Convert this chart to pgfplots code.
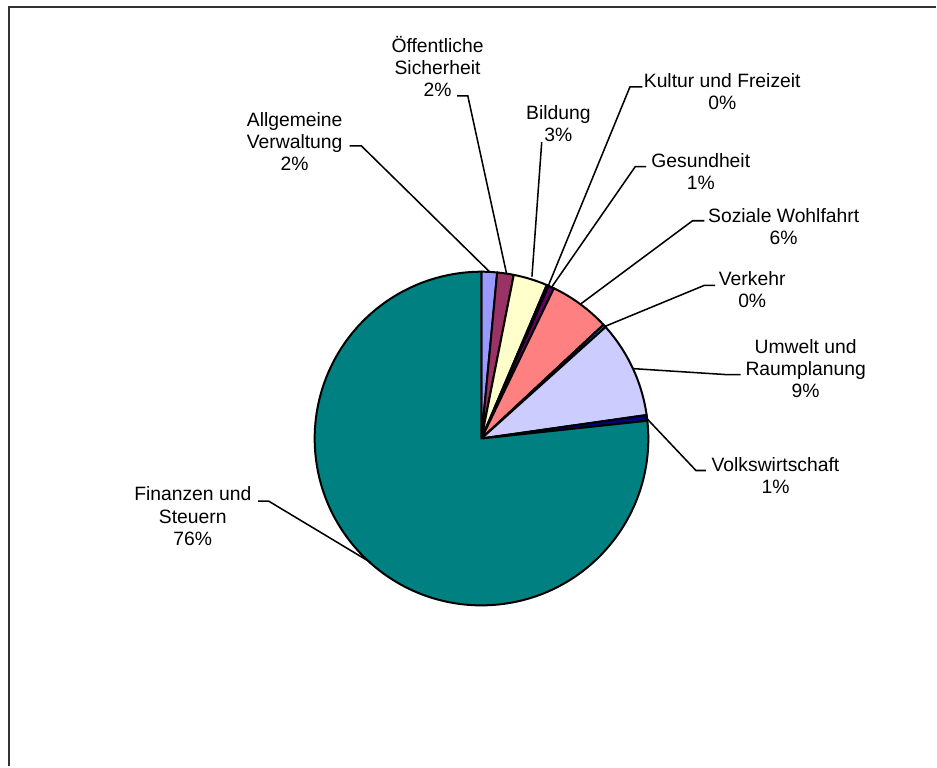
\documentclass[border=0pt]{standalone}
\usepackage{pgfplots}
\pgfplotsset{compat=1.18}
\usepackage{fontspec}
\setmainfont{Liberation Sans}
\definecolor{cA}{HTML}{9999FF}
\definecolor{cB}{HTML}{993366}
\definecolor{cC}{HTML}{FFFFCC}
\definecolor{cD}{HTML}{CCFFFF}
\definecolor{cE}{HTML}{660066}
\definecolor{cF}{HTML}{FF8080}
\definecolor{cG}{HTML}{0066CC}
\definecolor{cH}{HTML}{CCCCFF}
\definecolor{cI}{HTML}{000080}
\definecolor{cJ}{HTML}{008080}
% slice: start (cumulative %), end (cumulative %), colour
\newcommand{\slice}[3]{%
  \filldraw[fill=#3, draw=black, line width=1.5pt, line join=round]
    (axis cs:482,328) -- ++({90-3.6*#1}:125.25pt)
    arc[start angle={90-3.6*#1}, end angle={90-3.6*#2}, radius=125.25pt] -- cycle;}
\begin{document}
\begin{tikzpicture}
\begin{axis}[width=702.75pt, height=575.25pt, scale only axis,
  xmin=0, xmax=937, ymin=0, ymax=767, hide axis, clip=false]
\path (axis cs:0,0) rectangle (axis cs:937,767);
% frame
\draw[black!80, line width=1.5pt] (axis cs:9.5,0) -- (axis cs:9.5,760) -- (axis cs:937,760);
% values (%): Allgemeine Verwaltung 1.5, Oeffentliche Sicherheit 1.6, Bildung 3.3,
% Kultur 0.2, Gesundheit 0.55, Soziale Wohlfahrt 5.9, Verkehr 0.3, Umwelt 9.4,
% Volkswirtschaft 0.55, Finanzen und Steuern 76.7
\slice{0}{1.5}{cA}
\slice{1.5}{3.1}{cB}
\slice{3.1}{6.4}{cC}
\slice{6.4}{6.6}{cD}
\slice{6.6}{7.15}{cE}
\slice{7.15}{13.05}{cF}
\slice{13.05}{13.35}{cG}
\slice{13.35}{22.75}{cH}
\slice{22.75}{23.3}{cI}
\slice{23.3}{100}{cJ}
% leader lines
\begin{scope}[line width=1.15pt]
\draw (axis cs:490,495) -- (axis cs:361.7,621) -- (axis cs:350,621);
\draw (axis cs:507,493.5) -- (axis cs:468.3,671) -- (axis cs:457.7,671);
\draw (axis cs:532.5,490) -- (axis cs:542.3,624.7);
\draw (axis cs:548.5,480) -- (axis cs:630.6,680) -- (axis cs:643,680);
\draw (axis cs:551.5,478.5) -- (axis cs:636,600.3) -- (axis cs:646.7,600.3);
\draw (axis cs:581,462.5) -- (axis cs:693.3,546) -- (axis cs:705,546);
\draw (axis cs:605,440) -- (axis cs:705,481.3) -- (axis cs:716,481.3);
\draw (axis cs:633.5,398) -- (axis cs:727,392) -- (axis cs:741.5,392);
\draw (axis cs:648,347.5) -- (axis cs:696.7,296) -- (axis cs:706.7,296);
\draw (axis cs:371,204) -- (axis cs:269,265.3) -- (axis cs:258.3,265.3);
\end{scope}
% labels
\begin{scope}[every node/.style={align=center, inner sep=0pt,
    font=\fontsize{14.5}{16.6}\selectfont}]
\node at (axis cs:295,625.3) {Allgemeine\\Verwaltung\\2\%};
\node at (axis cs:438,700.3) {Öffentliche\\Sicherheit\\2\%};
\node at (axis cs:559,643) {Bildung\\3\%};
\node at (axis cs:723,675.3) {Kultur und Freizeit\\0\%};
\node at (axis cs:701.5,595.3) {Gesundheit\\1\%};
\node at (axis cs:784.5,540.3) {Soziale Wohlfahrt\\6\%};
\node at (axis cs:753,477) {Verkehr\\0\%};
\node at (axis cs:806.5,398) {Umwelt und\\Raumplanung\\9\%};
\node at (axis cs:776.3,290.7) {Volkswirtschaft\\1\%};
\node at (axis cs:193,250.3) {Finanzen und\\Steuern\\76\%};
\end{scope}
\end{axis}
\end{tikzpicture}
\end{document}
